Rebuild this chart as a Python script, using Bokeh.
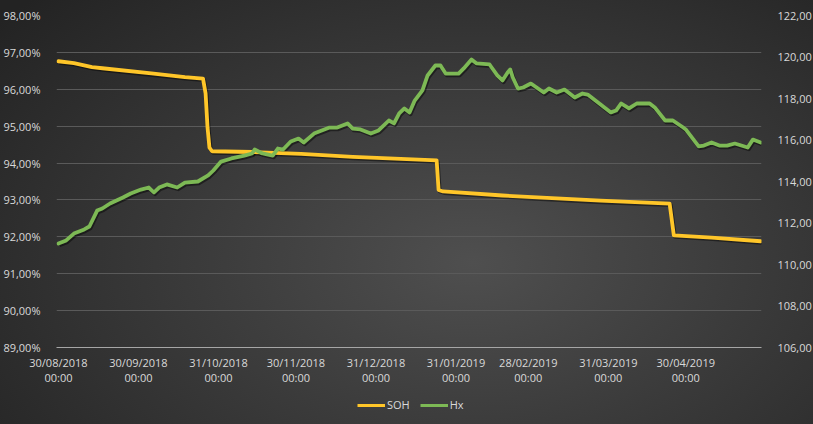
import pandas as pd
from bokeh.plotting import figure
from bokeh.layouts import column
from bokeh.models import Range1d, LinearAxis, FixedTicker, Legend, LegendItem
from bokeh.embed import file_html
from bokeh.resources import INLINE

# ---------------- data ----------------
soh_dates = ["2018-08-30", "2018-09-05", "2018-09-12", "2018-09-16", "2018-10-05",
             "2018-10-18", "2018-10-25 00:00", "2018-10-26 00:00", "2018-10-26 18:00",
             "2018-10-27 12:00", "2018-10-28 12:00", "2018-11-13", "2018-12-02",
             "2018-12-22", "2019-01-23 12:00", "2019-01-24 06:00", "2019-01-26",
             "2019-02-18", "2019-03-28", "2019-04-23 18:00", "2019-04-25 09:00",
             "2019-05-10", "2019-05-29"]
soh_values = [96.76, 96.71, 96.60, 96.57, 96.43,
              96.33, 96.29, 95.89, 94.97,
              94.42, 94.32, 94.30, 94.25,
              94.17, 94.07, 93.27, 93.23,
              93.12, 92.98, 92.90, 92.04,
              91.98, 91.88]

hx_dates = ["2018-08-30", "2018-09-02", "2018-09-05", "2018-09-09", "2018-09-11",
            "2018-09-14", "2018-09-16", "2018-09-19", "2018-09-24", "2018-09-27",
            "2018-10-01", "2018-10-04", "2018-10-06", "2018-10-08", "2018-10-11",
            "2018-10-15", "2018-10-18", "2018-10-23", "2018-10-27", "2018-10-29",
            "2018-11-01", "2018-11-05", "2018-11-10", "2018-11-13", "2018-11-14",
            "2018-11-17", "2018-11-21", "2018-11-23", "2018-11-25", "2018-11-28",
            "2018-12-01", "2018-12-03", "2018-12-07", "2018-12-13", "2018-12-16",
            "2018-12-20", "2018-12-22", "2018-12-25", "2018-12-29", "2019-01-01",
            "2019-01-05", "2019-01-07", "2019-01-09", "2019-01-11", "2019-01-13",
            "2019-01-15", "2019-01-18", "2019-01-20", "2019-01-23", "2019-01-25",
            "2019-01-27", "2019-02-01", "2019-02-03", "2019-02-06", "2019-02-08",
            "2019-02-13", "2019-02-16", "2019-02-18", "2019-02-20", "2019-02-21",
            "2019-02-22", "2019-02-24", "2019-02-26", "2019-03-01", "2019-03-06",
            "2019-03-08", "2019-03-11", "2019-03-14", "2019-03-18", "2019-03-21",
            "2019-03-23", "2019-03-27", "2019-04-01", "2019-04-03", "2019-04-05",
            "2019-04-08", "2019-04-11", "2019-04-16", "2019-04-18", "2019-04-22",
            "2019-04-25", "2019-04-29", "2019-04-30", "2019-05-05", "2019-05-07",
            "2019-05-10", "2019-05-13", "2019-05-16", "2019-05-19", "2019-05-24",
            "2019-05-26", "2019-05-29"]
hx_values = [111.01, 111.16, 111.49, 111.69, 111.83,
             112.60, 112.70, 112.94, 113.23, 113.42,
             113.61, 113.71, 113.47, 113.71, 113.86,
             113.71, 113.95, 114.00, 114.29, 114.53,
             114.96, 115.11, 115.25, 115.35, 115.54,
             115.35, 115.25, 115.59, 115.54, 115.93,
             116.07, 115.88, 116.31, 116.60, 116.60,
             116.80, 116.55, 116.51, 116.31, 116.46,
             116.94, 116.80, 117.28, 117.52, 117.33,
             117.90, 118.39, 119.11, 119.59, 119.59,
             119.20, 119.20, 119.45, 119.88, 119.69,
             119.64, 119.11, 118.87, 119.25, 119.40,
             119.01, 118.48, 118.53, 118.72, 118.29,
             118.48, 118.29, 118.43, 118.05, 118.24,
             118.19, 117.81, 117.33, 117.42, 117.76,
             117.52, 117.76, 117.76, 117.57, 116.94,
             116.94, 116.60, 116.51, 115.69, 115.73,
             115.88, 115.73, 115.73, 115.83, 115.64,
             116.02, 115.88]

x_tick_dates = ["2018-08-30", "2018-09-30", "2018-10-31", "2018-11-30", "2018-12-31",
                "2019-01-31", "2019-02-28", "2019-03-31", "2019-04-30"]
x_tick_labels = ["30/08/2018\n00:00", "30/09/2018\n00:00", "31/10/2018\n00:00",
                 "30/11/2018\n00:00", "31/12/2018\n00:00", "31/01/2019\n00:00",
                 "28/02/2019\n00:00", "31/03/2019\n00:00", "30/04/2019\n00:00"]
left_ticks = [89, 90, 91, 92, 93, 94, 95, 96, 97, 98]
left_labels = ["89,00%", "90,00%", "91,00%", "92,00%", "93,00%",
               "94,00%", "95,00%", "96,00%", "97,00%", "98,00%"]
right_ticks = [106, 108, 110, 112, 114, 116, 118, 120, 122]
right_labels = ["106,00", "108,00", "110,00", "112,00", "114,00",
                "116,00", "118,00", "120,00", "122,00"]
series_names = ["SOH", "Hx"]

# ---------------- styles ----------------
FONT = "Open Sans"
TXT = "#d9d9d9"
SOH_COLOR = "#FFC629"
HX_COLOR = "#7DB955"

soh_x = pd.to_datetime(soh_dates, format="mixed")
hx_x = pd.to_datetime(hx_dates, format="mixed")
shift = pd.Timedelta(hours=10)

p = figure(frame_width=705, frame_height=332, x_axis_type="datetime",
           output_backend="svg", toolbar_location=None,
           x_range=Range1d(pd.Timestamp("2018-08-29 06:00"), pd.Timestamp("2019-05-29 08:00")),
           y_range=Range1d(89, 98),
           min_border_left=55, min_border_right=53, min_border_top=15, min_border_bottom=48)
p.extra_y_ranges = {"hx": Range1d(106, 122)}
p.background_fill_alpha = 0
p.border_fill_alpha = 0
p.outline_line_color = None

# axes
tick_ms = [int(pd.Timestamp(d).value // 10**6) for d in x_tick_dates]
xa = p.xaxis[0]
xa.ticker = FixedTicker(ticks=tick_ms)
xa.major_label_overrides = {t: l for t, l in zip(tick_ms, x_tick_labels)}
xa.axis_line_color = "#a6a6a6"
xa.axis_line_width = 1
xa.major_tick_line_color = None
xa.minor_tick_line_color = None
xa.major_tick_in = 0
xa.major_tick_out = 0
xa.major_label_standoff = 7
xa.major_label_text_line_height = 1.0
xa.major_label_text_color = TXT
xa.major_label_text_font = FONT
xa.major_label_text_font_size = "11px"

ya = p.yaxis[0]
ya.ticker = FixedTicker(ticks=left_ticks)
ya.major_label_overrides = {t: l for t, l in zip(left_ticks, left_labels)}
ya.axis_line_color = None
ya.major_tick_line_color = None
ya.minor_tick_line_color = None
ya.major_label_standoff = 10
ya.major_label_text_color = TXT
ya.major_label_text_font = FONT
ya.major_label_text_font_size = "11px"

ra = LinearAxis(y_range_name="hx", ticker=FixedTicker(ticks=right_ticks))
ra.major_label_overrides = {t: l for t, l in zip(right_ticks, right_labels)}
ra.axis_line_color = None
ra.major_tick_line_color = None
ra.minor_tick_line_color = None
ra.major_label_standoff = 10
ra.major_label_text_color = TXT
ra.major_label_text_font = FONT
ra.major_label_text_font_size = "11px"
p.add_layout(ra, "right")

p.xgrid.grid_line_color = None
p.ygrid.grid_line_color = "#5a5a5a"
p.ygrid.grid_line_width = 1

# shadows
p.line(soh_x + shift, [v - 0.04 for v in soh_values], line_color="black", line_alpha=0.45,
       line_width=4, line_join="round")
p.line(hx_x + shift, [v - 0.08 for v in hx_values], y_range_name="hx", line_color="black",
       line_alpha=0.45, line_width=4, line_join="round")

p.line(soh_x, soh_values, line_color=SOH_COLOR, line_width=3.8, line_join="round",
       line_cap="round")
p.line(hx_x, hx_values, y_range_name="hx", line_color=HX_COLOR, line_width=3.8,
       line_join="round", line_cap="round")

# ---------------- legend strip ----------------
leg = figure(frame_width=813, frame_height=424 - 395, output_backend="svg",
             toolbar_location=None, x_range=Range1d(0, 1), y_range=Range1d(0, 1),
             min_border=0, x_axis_location=None, y_axis_location=None)
leg.background_fill_alpha = 0
leg.border_fill_alpha = 0
leg.outline_line_color = None
leg.xgrid.visible = False
leg.ygrid.visible = False
# proxy renderers placed outside the visible range (only their legend swatch shows)
l_soh = leg.line(x=[5, 6], y=[5, 6], line_color=SOH_COLOR, line_width=3)
l_hx = leg.line(x=[5, 6], y=[5, 6], line_color=HX_COLOR, line_width=3)
legend = Legend(items=[LegendItem(label=series_names[0], renderers=[l_soh]),
                       LegendItem(label=series_names[1], renderers=[l_hx])],
                orientation="horizontal", location=(357, 12),
                label_text_color=TXT, label_text_font=FONT, label_text_font_size="11px",
                background_fill_alpha=0, border_line_alpha=0,
                glyph_width=28, label_standoff=2, spacing=10, padding=0, margin=0,
                label_height=14, glyph_height=14)
leg.add_layout(legend, "center")

layout = column(p, leg, spacing=0)
layout.styles = {"background": "radial-gradient(ellipse 75% 90% at 58% 62%, #4f4f4f 0%, #3b3b3b 45%, #232323 100%)"}

open("out.html", "w").write(file_html(layout, INLINE))
